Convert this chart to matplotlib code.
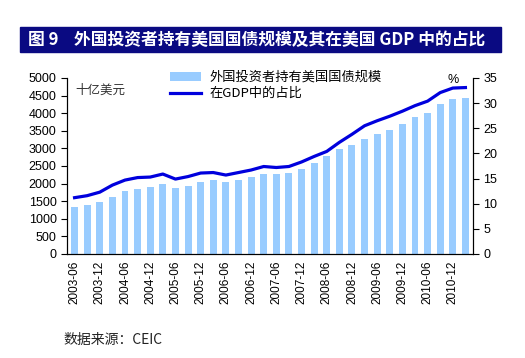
import numpy as np
import matplotlib.pyplot as plt
from matplotlib.patches import Rectangle

plt.rcParams['font.family'] = ['Liberation Sans', 'Noto Sans CJK SC', 'DejaVu Sans']

# quarterly data, 2003-06 .. 2011-03
quarters = []
for y in range(2003, 2012):
    for m in ['03', '06', '09', '12']:
        quarters.append(f'{y}-{m}')
quarters = quarters[1:33]

holdings = [1330, 1400, 1490, 1630, 1800, 1835, 1890, 1980, 1865, 1920, 2040, 2095,
            2040, 2095, 2185, 2270, 2270, 2300, 2410, 2590, 2770, 2970, 3110, 3280,
            3400, 3520, 3690, 3880, 4000, 4270, 4410, 4440]
share_gdp = [11.2, 11.6, 12.3, 13.7, 14.7, 15.2, 15.3, 15.9, 14.9, 15.4, 16.1, 16.2,
             15.7, 16.2, 16.7, 17.4, 17.2, 17.4, 18.3, 19.4, 20.4, 22.2, 23.8, 25.5,
             26.5, 27.4, 28.4, 29.5, 30.4, 32.1, 33.0, 33.1]

fig = plt.figure(figsize=(5.25, 3.58), dpi=100)

# title banner
fig.patches.append(Rectangle((20 / 525, 1 - 52 / 358), 481 / 525, 25 / 358,
                             transform=fig.transFigure, color='#0a0a82', zorder=0))
fig.text(28 / 525, 1 - 40 / 358, '图 9    外国投资者持有美国国债规模及其在美国 GDP 中的占比',
         color='white', fontsize=12.1, fontweight='bold', va='center', ha='left',
         family=['Noto Sans CJK SC', 'DejaVu Sans'])

ax = fig.add_axes([67 / 525, 1 - 254 / 358, 406 / 525, 176 / 358])
x = np.arange(len(quarters))
bars = ax.bar(x, holdings, width=0.55, color='#99ccff', label='外国投资者持有美国国债规模')
ax.set_ylim(0, 5000)
ax.set_yticks(np.arange(0, 5001, 500))
ax.set_xlim(-0.6, len(quarters) - 0.4)
ax.set_xticks(x[::2])
ax.set_xticklabels(quarters[::2], rotation=90, fontsize=8.5)
ax.tick_params(axis='x', length=0, pad=5)
ax.tick_params(axis='y', labelsize=9, direction='out', length=4)
ax.spines['top'].set_visible(False)

ax2 = ax.twinx()
line, = ax2.plot(x, share_gdp, color='#0000dd', linewidth=2.3, label='在GDP中的占比')
ax2.set_ylim(0, 35)
ax2.set_yticks(np.arange(0, 36, 5))
ax2.tick_params(axis='y', labelsize=9, direction='out', length=4)
ax2.spines['top'].set_visible(False)

ax.text(0.02, 0.93, '十亿美元', transform=ax.transAxes, fontsize=9, color='#333333',
        family=['Noto Sans CJK SC'], va='center')
ax2.text(0.95, 0.99, '%', transform=ax.transAxes, fontsize=9, ha='center', va='center')

leg = ax.legend([bars, line], ['外国投资者持有美国国债规模', '在GDP中的占比'],
                loc='upper left', bbox_to_anchor=(0.24, 1.07), frameon=False,
                prop={'family': ['Noto Sans CJK SC'], 'size': 9.5},
                handlelength=2.4, handletextpad=0.6, labelspacing=0.25, borderaxespad=0)

fig.text(63 / 525, 1 - 340 / 358, '数据来源：CEIC', fontsize=10, color='#222222',
         family=['Noto Sans CJK SC'], va='center')

fig.savefig('out.png', dpi=100)
